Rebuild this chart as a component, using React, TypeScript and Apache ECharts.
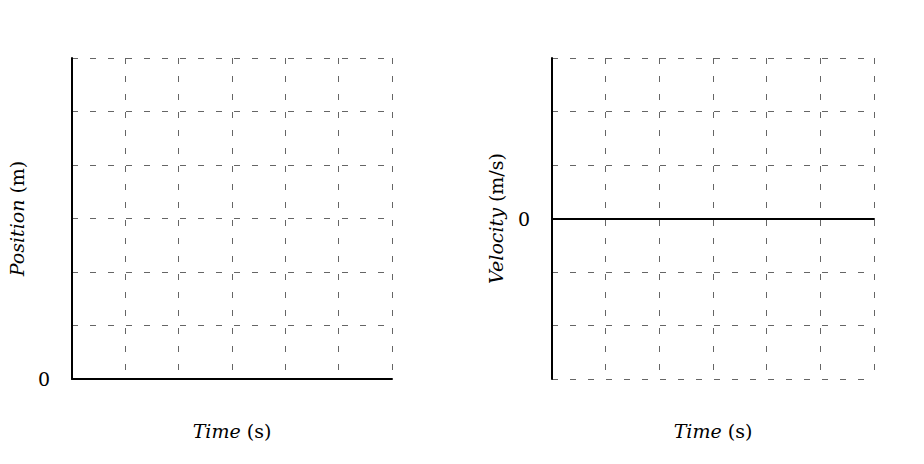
import React, { useEffect, useRef } from "react";
import * as echarts from "echarts";

const timeTicks = [0, 1, 2, 3, 4, 5, 6];
const positionRange = [0, 6];
const velocityRange = [-3, 3];
const zeroLabel = "0";
const positionLine: [number, number][] = [];
const velocityLine: [number, number][] = [];

const FONT = "DejaVu Serif";
const FS = 19;
const rich = {
  i: { fontStyle: "italic", fontFamily: FONT, fontSize: FS, color: "#000" },
  n: { fontFamily: FONT, fontSize: FS, color: "#000" },
};

const split = {
  show: true,
  lineStyle: { color: "#666", width: 1, type: [6, 12] as any },
};

export default function App() {
  const ref = useRef<HTMLDivElement>(null);
  useEffect(() => {
    const chart = echarts.init(ref.current!, null, { renderer: "svg" });
    const xCommon = (gi: number) => ({
      type: "value",
      gridIndex: gi,
      min: timeTicks[0],
      max: timeTicks[timeTicks.length - 1],
      interval: 1,
      axisTick: { show: false },
      axisLabel: { show: false },
      splitLine: split,
      axisLine: { show: true, onZero: gi === 1, lineStyle: { color: "#000", width: 2 } },
      name: "{i|Time}{n| (s)}",
      nameLocation: "middle",
      nameGap: 42,
      nameTextStyle: { rich },
    });
    const yCommon = (gi: number, range: number[], name: string, gap: number) => ({
      type: "value",
      gridIndex: gi,
      min: range[0],
      max: range[1],
      interval: 1,
      axisTick: { show: false },
      axisLabel: {
        formatter: (v: number) => (v === 0 ? zeroLabel : ""),
        fontFamily: FONT,
        fontSize: FS,
        color: "#000",
        margin: 22,
      },
      splitLine: split,
      axisLine: { show: true, onZero: false, lineStyle: { color: "#000", width: 2 } },
      name,
      nameLocation: "middle",
      nameGap: gap,
      nameTextStyle: { rich },
    });
    chart.setOption({
      animation: false,
      grid: [
        { left: 72, top: 58, width: 320, height: 321, outerBoundsMode: "none" },
        { left: 552, top: 58, width: 322, height: 321, outerBoundsMode: "none" },
      ],
      xAxis: [xCommon(0), xCommon(1)],
      yAxis: [
        yCommon(0, positionRange, "{i|Position}{n| (m)}", 46),
        yCommon(1, velocityRange, "{i|Velocity}{n| (m/s)}", 47),
      ],
      series: [
        { type: "line", xAxisIndex: 0, yAxisIndex: 0, data: positionLine, showSymbol: false },
        { type: "line", xAxisIndex: 1, yAxisIndex: 1, data: velocityLine, showSymbol: false },
      ],
    });
    return () => chart.dispose();
  }, []);
  return <div ref={ref} style={{ width: 924, height: 464, position: "absolute", left: 0, top: 0 }} />;
}
